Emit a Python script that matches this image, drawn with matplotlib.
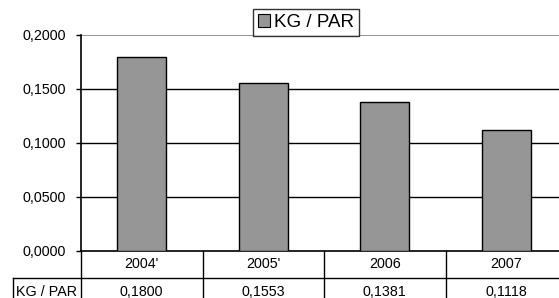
import matplotlib
matplotlib.use("Agg")
import matplotlib.pyplot as plt
from matplotlib.patches import Patch

categories = ["2004'", "2005'", "2006", "2007"]
values = [0.1800, 0.1553, 0.1381, 0.1118]
series_name = "KG / PAR"
yticks = [0.0, 0.05, 0.10, 0.15, 0.20]

plt.rcParams['font.family'] = ['Liberation Sans', 'DejaVu Sans']

W, H = 559, 298
fs = 10.3
fig = plt.figure(figsize=(W / 100, H / 100), dpi=100)
left_px, right_px, top_px, bot_px = 81, 567, 35, 251
ax = fig.add_axes([left_px / W, 1 - bot_px / H, (right_px - left_px) / W, (bot_px - top_px) / H])

x = list(range(len(categories)))
ax.bar(x, values, width=0.4, color='#969696', edgecolor='black', linewidth=1.0, zorder=3)
ax.set_xlim(-0.5, len(categories) - 0.5)
ax.set_ylim(0, 0.2)
ax.set_yticks(yticks)
ax.set_yticklabels([f"{v:.4f}".replace('.', ',') for v in yticks], fontsize=fs)
ax.tick_params(axis='y', length=3.5, width=1, pad=7.2, colors='black')
ax.set_xticks([])
for v in yticks[1:-1]:
    ax.axhline(v, color='black', linewidth=1.0, zorder=1)
ax.axhline(0.2, color='#808080', linewidth=1.2, zorder=1)
for s in ['top', 'right']:
    ax.spines[s].set_visible(False)
ax.spines['left'].set_linewidth(1.2)
ax.spines['bottom'].set_linewidth(1.2)

# data table below
tr = ax.get_xaxis_transform()
ph = bot_px - top_px
r1 = -27 / ph
r2 = -54 / ph
lab_left = -0.5 - 68 / 121.5
n = len(categories)
kw = dict(transform=tr, clip_on=False, color='black', linewidth=1.0)
ax.plot([lab_left, n - 0.5], [r1, r1], **kw)
for b in [i - 0.5 for i in range(n + 1)]:
    ax.plot([b, b], [0, r2], **kw)
ax.plot([lab_left, lab_left], [r1, r2], **kw)
for i, (c, v) in enumerate(zip(categories, values)):
    ax.text(i, r1 / 2, c, transform=tr, ha='center', va='center', fontsize=fs)
    ax.text(i, (r1 + r2) / 2, f"{v:.4f}".replace('.', ','), transform=tr,
            ha='center', va='center', fontsize=fs)
ax.text((lab_left - 0.5) / 2, (r1 + r2) / 2, series_name, transform=tr,
        ha='center', va='center', fontsize=fs)

leg = fig.legend(handles=[Patch(facecolor='#969696', edgecolor='black', linewidth=0.8, label=series_name)],
                 loc='center', bbox_to_anchor=(306 / W, 1 - 22.5 / H),
                 fontsize=13.5, frameon=True, fancybox=False, borderpad=0.28,
                 handlelength=0.65, handleheight=0.65, handletextpad=0.2, borderaxespad=0)
leg.get_frame().set_edgecolor('black')
leg.get_frame().set_linewidth(1.0)

fig.savefig("out.png", dpi=100)
